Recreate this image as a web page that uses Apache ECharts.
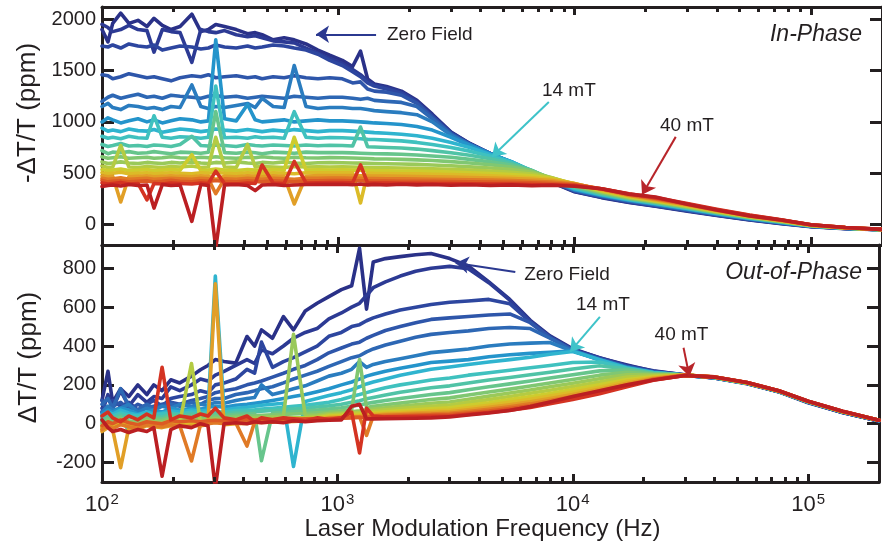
<!DOCTYPE html>
<html><head><meta charset="utf-8">
<script src="https://cdn.jsdelivr.net/npm/echarts@6/dist/echarts.min.js"></script>
<style>html,body{margin:0;padding:0;background:#fff}#chart{width:882px;height:546px}</style>
</head><body><div id="chart"></div>
<script>
// ---------- data ----------
const freqHz = [100, 106, 111, 120, 130, 142, 155, 166, 180, 196, 214, 240, 262, 282, 303, 330, 370, 413, 445, 476, 530, 590, 651, 730, 820, 920, 1040, 1150, 1242, 1330, 1420, 1600, 1850, 2150, 2500, 3000, 3600, 4400, 5400, 6600, 8000, 10000, 13000, 17000, 22000, 30000, 40000, 55000, 75000, 100000, 140000, 200000];
const fieldsMT = [0, 2, 4, 6, 8, 10, 12, 14, 16, 18, 20, 22, 24, 26, 28, 30, 32, 34, 36, 38, 40];

// In-phase (-dT/T, ppm)
const IP_00 = [1900, 1780, 1960, 2060, 1960, 1990, 1930, 2010, 1940, 1900, 1930, 2050, 1880, 1900, 1950, 1930, 1900, 1860, 1870, 1850, 1800, 1820, 1800, 1760, 1700, 1650, 1600, 1540, 1690, 1420, 1370, 1345, 1300, 1210, 1075, 900, 790, 690, 600, 500, 410, 318, 262, 215, 178, 130, 88, 45, 8, -22, -40, -52];
const IP_02 = [1950, 1920, 1880, 1900, 1940, 1900, 1890, 1680, 1900, 1880, 1870, 1580, 1900, 1880, 1870, 1890, 1850, 1830, 1840, 1820, 1790, 1780, 1770, 1720, 1670, 1620, 1570, 1510, 1460, 1400, 1360, 1335, 1290, 1200, 1065, 895, 788, 690, 602, 503, 413, 322, 266, 218, 181, 133, 90, 47, 10, -20, -39, -52];
const IP_04 = [1740, 1730, 1750, 1720, 1760, 1740, 1730, 1750, 1700, 1720, 1740, 1730, 1710, 1720, 1750, 1730, 1720, 1740, 1720, 1730, 1750, 1740, 1720, 1700, 1660, 1600, 1550, 1490, 1440, 1380, 1350, 1320, 1280, 1190, 1055, 890, 785, 690, 604, 506, 416, 326, 270, 222, 184, 136, 93, 49, 12, -19, -38, -51];
const IP_06 = [1460, 1450, 1420, 1440, 1470, 1450, 1430, 1440, 1420, 1400, 1430, 1450, 1440, 1460, 1430, 1440, 1450, 1430, 1440, 1420, 1440, 1430, 1450, 1430, 1420, 1430, 1420, 1380, 1390, 1320, 1300, 1290, 1260, 1180, 1045, 885, 782, 690, 606, 509, 419, 330, 274, 226, 188, 140, 96, 51, 14, -18, -38, -51];
const IP_08 = [1200, 1240, 1260, 1230, 1250, 1270, 1240, 1250, 1230, 1260, 1250, 1240, 1230, 1250, 1260, 1240, 1250, 1230, 1240, 1250, 1240, 1230, 1250, 1240, 1230, 1240, 1240, 1230, 1220, 1230, 1210, 1200, 1190, 1150, 1030, 880, 780, 690, 608, 512, 422, 334, 278, 230, 192, 144, 99, 54, 16, -17, -37, -51];
const IP_10 = [1150, 1180, 1140, 1120, 1160, 1150, 1130, 1140, 1120, 1150, 1140, 1360, 1150, 1130, 1150, 1140, 1160, 1180, 1140, 1230, 1150, 1140, 1550, 1150, 1130, 1140, 1140, 1130, 1130, 1120, 1110, 1100, 1090, 1070, 1000, 870, 778, 690, 610, 515, 425, 338, 282, 234, 196, 148, 102, 56, 18, -16, -37, -51];
const IP_12 = [1000, 1040, 1020, 990, 1010, 1030, 1000, 1020, 990, 1010, 1030, 1020, 1000, 1010, 1800, 1030, 1010, 1170, 1020, 1000, 1010, 1020, 1000, 1010, 1020, 1010, 1010, 1005, 1000, 995, 990, 985, 975, 955, 920, 850, 770, 688, 612, 518, 428, 342, 286, 238, 200, 152, 105, 59, 20, -15, -36, -50];
const IP_14 = [940, 910, 920, 905, 930, 915, 910, 925, 900, 915, 930, 920, 905, 915, 930, 920, 910, 925, 915, 905, 920, 910, 925, 915, 905, 915, 915, 910, 905, 900, 895, 890, 880, 865, 840, 800, 750, 680, 612, 522, 432, 348, 290, 242, 204, 155, 108, 61, 22, -14, -36, -50];
const IP_16 = [860, 840, 850, 835, 860, 845, 840, 1060, 850, 840, 855, 850, 840, 850, 1350, 845, 850, 840, 855, 845, 850, 840, 1100, 850, 840, 848, 845, 840, 835, 830, 828, 822, 815, 800, 780, 750, 715, 665, 605, 525, 436, 355, 295, 246, 208, 159, 111, 63, 24, -13, -35, -50];
const IP_18 = [780, 760, 770, 790, 765, 770, 760, 775, 770, 760, 780, 860, 770, 765, 775, 770, 760, 780, 770, 765, 775, 770, 765, 775, 768, 772, 770, 765, 950, 758, 755, 750, 745, 735, 720, 700, 675, 640, 595, 527, 440, 362, 300, 250, 212, 163, 114, 66, 26, -12, -35, -50];
const IP_20 = [720, 690, 705, 700, 710, 695, 700, 710, 700, 690, 705, 700, 695, 705, 1100, 700, 695, 705, 700, 690, 705, 700, 695, 705, 700, 702, 700, 698, 695, 692, 690, 688, 684, 678, 668, 655, 635, 610, 580, 525, 445, 370, 306, 254, 216, 166, 117, 68, 28, -11, -34, -50];
const IP_22 = [660, 645, 650, 660, 645, 650, 655, 645, 650, 660, 650, 645, 655, 650, 660, 650, 645, 655, 650, 660, 650, 645, 655, 650, 648, 652, 650, 648, 645, 643, 640, 638, 635, 630, 623, 613, 600, 582, 560, 520, 450, 378, 312, 258, 220, 170, 120, 70, 30, -10, -34, -50];
const IP_24 = [610, 595, 600, 610, 600, 595, 605, 600, 595, 605, 600, 610, 600, 595, 605, 600, 610, 600, 595, 605, 600, 610, 600, 595, 602, 603, 602, 600, 598, 596, 594, 592, 590, 586, 580, 572, 562, 550, 535, 510, 455, 386, 318, 262, 224, 174, 123, 73, 32, -9, -33, -50];
const IP_26 = [570, 555, 560, 770, 560, 555, 565, 560, 555, 565, 560, 570, 555, 560, 850, 560, 555, 780, 560, 565, 560, 555, 565, 560, 562, 561, 562, 560, 558, 556, 555, 553, 551, 548, 544, 538, 530, 520, 508, 492, 455, 392, 324, 267, 228, 178, 126, 75, 34, -8, -33, -49];
const IP_28 = [535, 525, 530, 540, 525, 530, 535, 525, 530, 535, 530, 680, 525, 530, 540, 530, 525, 535, 530, 525, 535, 530, 850, 530, 532, 531, 532, 530, 528, 527, 525, 524, 522, 520, 516, 511, 505, 497, 487, 475, 450, 398, 330, 272, 232, 182, 130, 78, 36, -7, -32, -49];
const IP_30 = [505, 495, 500, 510, 495, 500, 505, 495, 500, 505, 500, 495, 505, 500, 510, 500, 495, 505, 500, 495, 505, 500, 495, 505, 503, 504, 505, 503, 210, 500, 498, 497, 495, 493, 490, 486, 481, 474, 466, 456, 440, 400, 336, 277, 237, 186, 133, 80, 38, -6, -32, -49];
const IP_32 = [475, 465, 470, 220, 465, 470, 475, 465, 470, 475, 470, 465, 475, 470, 440, 470, 465, 475, 470, 465, 475, 470, 200, 470, 476, 477, 478, 476, 474, 473, 472, 471, 470, 468, 465, 462, 458, 453, 447, 440, 428, 398, 342, 282, 242, 190, 136, 83, 40, -5, -31, -49];
const IP_34 = [450, 440, 445, 455, 440, 445, 450, 440, 445, 450, 445, 440, 450, 445, 300, 445, 440, 450, 445, 440, 450, 445, 440, 450, 451, 452, 452, 450, 449, 448, 447, 446, 445, 443, 441, 439, 436, 432, 428, 422, 414, 394, 346, 288, 248, 195, 140, 86, 42, -4, -31, -49];
const IP_36 = [430, 415, 420, 425, 415, 420, 425, 415, 420, 430, 420, 415, 425, 420, 430, 420, 415, 425, 420, 415, 425, 420, 415, 425, 427, 428, 428, 427, 426, 425, 424, 423, 422, 421, 420, 418, 416, 413, 410, 406, 400, 388, 348, 294, 255, 200, 144, 89, 44, -3, -30, -48];
const IP_38 = [405, 395, 400, 410, 395, 400, 240, 400, 395, 405, 400, 395, 405, 400, 520, 400, 395, 405, 400, 580, 405, 400, 615, 405, 407, 408, 408, 407, 580, 405, 404, 403, 402, 401, 400, 399, 397, 395, 393, 390, 386, 380, 348, 300, 262, 205, 148, 92, 46, -2, -30, -48];
const IP_40 = [370, 380, 385, 375, 390, 380, 385, 160, 390, 380, 385, 30, 390, 380, -230, 385, 390, 380, 330, 385, 390, 380, 385, 390, 392, 391, 392, 388, 394, 386, 391, 385, 392, 386, 390, 383, 388, 380, 386, 378, 382, 372, 348, 296, 268, 198, 142, 84, 44, -2, -30, -48];

// Out-of-phase (dT/T, ppm)
const OP_00 = [120, 270, 110, 180, 140, 200, 150, 200, 170, 226, 210, 245, 278, 300, 330, 320, 312, 449, 400, 483, 440, 551, 483, 580, 620, 654, 690, 710, 903, 590, 833, 850, 860, 870, 876, 850, 812, 730, 640, 532, 452, 386, 338, 302, 270, 252, 236, 206, 164, 108, 58, 14];
const OP_02 = [60, 150, 80, 170, 90, 150, 110, 140, 130, 190, 170, 200, 230, 220, 250, 270, 300, 330, 310, 380, 360, 400, 440, 470, 490, 540, 570, 600, 620, 660, 700, 730, 760, 785, 800, 810, 798, 726, 636, 528, 448, 382, 340, 298, 272, 250, 238, 208, 165, 110, 58, 14];
const OP_04 = [80, 60, 120, 90, 110, 70, 100, 120, 90, 130, 140, 150, 170, 160, 200, 210, 230, 280, 260, 420, 290, 320, 340, 370, 400, 450, 470, 500, 510, 530, 545, 565, 585, 600, 614, 625, 632, 640, 618, 524, 446, 380, 336, 296, 268, 250, 236, 207, 165, 110, 58, 14];
const OP_06 = [120, 60, 90, 110, 70, 100, 80, 90, 100, 110, 100, 120, 130, 140, 160, 170, 180, 200, 210, 220, 240, 260, 280, 300, 330, 365, 390, 410, 420, 440, 455, 480, 500, 520, 537, 545, 552, 560, 565, 520, 444, 378, 334, 294, 267, 249, 236, 208, 166, 111, 59, 15];
const OP_08 = [100, 130, 80, 180, 90, 70, 100, 80, 90, 100, 90, 110, 100, 120, 130, 130, 150, 160, 170, 180, 190, 210, 230, 250, 270, 295, 320, 340, 350, 370, 385, 405, 425, 445, 460, 470, 478, 490, 495, 490, 440, 376, 332, 292, 266, 249, 237, 208, 166, 112, 60, 16];
const OP_10 = [60, 90, 70, 80, 100, 60, 80, 70, 90, 80, 100, 90, 100, 95, 110, 105, 120, 130, 135, 200, 150, 165, 180, 195, 220, 245, 260, 280, 320, 290, 305, 320, 335, 350, 366, 375, 385, 400, 410, 415, 418, 374, 330, 290, 265, 249, 237, 208, 166, 112, 60, 16];
const OP_12 = [50, 70, 60, 80, 70, 50, 60, 70, 60, 80, 70, 80, 75, 85, 90, 85, 95, 100, 105, 110, 120, 130, 140, 150, 165, 180, 200, 215, 230, 245, 255, 270, 285, 300, 315, 322, 330, 345, 355, 362, 368, 376, 328, 288, 264, 249, 237, 209, 167, 113, 61, 17];
const OP_14 = [40, 60, 50, 70, 55, 45, 60, 50, 55, 65, 60, 70, 65, 70, 760, 70, 80, 85, 90, 95, 100, 105, -220, 115, 130, 145, 160, 175, 190, 205, 215, 230, 250, 265, 280, 292, 305, 318, 330, 342, 358, 372, 330, 287, 263, 249, 238, 209, 167, 113, 61, 17];
const OP_16 = [30, 50, 40, 55, 45, 40, 50, 45, 50, 55, 50, 60, 55, 60, 62, 60, 68, 70, 72, 75, 80, 85, 90, 95, 102, 110, 125, 140, 150, 160, 170, 185, 200, 212, 225, 235, 250, 262, 275, 288, 300, 315, 318, 285, 262, 250, 238, 209, 167, 113, 61, 17];
const OP_18 = [20, 40, 30, 45, 35, 30, 45, 40, 35, 50, 45, 50, 48, 52, 55, 52, 58, 60, 62, 65, 68, 72, 76, 80, 86, 92, 100, 110, 118, 128, 135, 148, 162, 174, 185, 195, 210, 225, 238, 252, 265, 282, 298, 282, 260, 250, 238, 209, 167, 113, 61, 17];
const OP_20 = [10, 30, 20, 35, -40, 20, 35, 30, 25, 40, 35, 40, 38, 42, 45, 42, 48, 50, 52, -190, 55, 58, 62, 65, 70, 75, 82, 90, 96, 104, 110, 120, 130, 140, 150, 160, 175, 190, 205, 220, 235, 252, 272, 276, 258, 250, 238, 209, 167, 113, 61, 17];
const OP_22 = [0, 20, 10, 25, 15, 10, 25, 20, 15, 30, 25, 30, 28, 32, 35, 32, 38, 40, 42, 44, 46, 48, 50, 53, 56, 60, 66, 72, 330, 84, 90, 98, 106, 116, 125, 133, 148, 163, 178, 194, 210, 228, 250, 265, 255, 250, 239, 210, 168, 114, 62, 18];
const OP_24 = [-10, 10, 0, 15, 5, 0, 15, 10, 5, 20, 15, 20, 18, 22, 25, 22, 28, 30, 32, 34, 36, 38, 460, 42, 45, 52, 56, 62, 66, 72, 76, 82, 90, 98, 105, 112, 126, 142, 158, 174, 190, 208, 232, 252, 252, 250, 239, 210, 168, 114, 62, 18];
const OP_26 = [-20, 0, -10, 5, -5, -10, 5, 0, -5, 10, 5, 310, 8, 12, 15, 12, 18, 20, 22, 24, 26, 28, 30, 32, 36, 46, 50, 55, 58, 62, 66, 72, 78, 84, 90, 96, 110, 124, 140, 157, 172, 192, 215, 240, 247, 250, 239, 210, 168, 114, 62, 18];
const OP_28 = [-30, -10, -20, 0, -10, -20, 0, -5, -10, 5, 0, 5, 3, 8, 10, 8, 12, 15, 16, 18, 20, 22, 24, 26, 30, 40, 44, 48, 50, 54, 57, 62, 67, 72, 77, 82, 95, 108, 124, 140, 156, 176, 200, 228, 242, 250, 240, 211, 169, 115, 63, 18];
const OP_30 = [-20, 0, -15, 5, -10, -15, 0, -5, -10, 0, -5, 0, 0, 5, 8, 5, 10, 12, 13, 14, 16, 18, 20, 22, 26, 35, 38, 42, 44, 47, 50, 54, 58, 62, 66, 70, 82, 95, 110, 126, 142, 162, 188, 218, 238, 250, 240, 211, 169, 115, 63, 18];
const OP_32 = [-40, -20, -30, -226, -20, -30, -10, -15, -20, -10, -15, -10, -10, -5, 720, -5, 0, 2, 5, 6, 8, 10, 12, 14, 18, 30, 33, 36, 38, 41, 44, 48, 51, 55, 58, 62, 72, 84, 98, 113, 130, 150, 177, 208, 234, 250, 240, 211, 169, 115, 63, 18];
const OP_34 = [-30, -10, -25, -5, -15, -25, -5, -10, -15, -5, -10, -192, -5, 0, 5, 0, 5, -115, 8, 9, 10, 12, 14, 16, 20, 28, 31, 34, 36, -60, 40, 43, 46, 49, 50, 54, 63, 74, 87, 102, 119, 140, 167, 200, 230, 250, 240, 212, 170, 115, 63, 18];
const OP_36 = [-10, 10, 0, 20, 5, -5, 10, 5, 0, 15, 10, 15, 10, 15, 18, 15, 18, 20, 20, 22, 22, 24, 24, 25, 26, 25, 28, 30, 32, 34, 35, 37, 39, 42, 44, 47, 55, 65, 78, 92, 110, 131, 160, 194, 227, 249, 241, 212, 170, 116, 64, 18];
const OP_38 = [40, 60, 30, 10, 40, 20, 50, 30, 290, 20, 40, 30, 50, 40, 80, 30, 20, 40, 10, 30, 20, 30, 25, 15, 30, 22, 30, 60, -150, 80, 40, 35, 36, 37, 38, 40, 48, 58, 70, 84, 103, 125, 154, 190, 224, 249, 241, 212, 170, 116, 64, 18];
const OP_40 = [20, -20, -40, -30, -45, -30, -40, -20, -270, -30, -10, -20, 0, -10, -330, 0, 5, 0, 10, 5, 10, 5, 15, 10, 15, 18, 20, 90, 100, 25, 25, 26, 27, 28, 30, 35, 45, 55, 68, 88, 112, 140, 170, 200, 225, 248, 240, 212, 170, 116, 64, 18];

const inPhaseCurves = [IP_00, IP_02, IP_04, IP_06, IP_08, IP_10, IP_12, IP_14, IP_16, IP_18, IP_20, IP_22, IP_24, IP_26, IP_28, IP_30, IP_32, IP_34, IP_36, IP_38, IP_40];
const outPhaseCurves = [OP_00, OP_02, OP_04, OP_06, OP_08, OP_10, OP_12, OP_14, OP_16, OP_18, OP_20, OP_22, OP_24, OP_26, OP_28, OP_30, OP_32, OP_34, OP_36, OP_38, OP_40];

const yTicksTop = [0, 500, 1000, 1500, 2000];
const yTicksBottom = [-200, 0, 200, 400, 600, 800];
const xMajorTicks = [1000, 10000, 100000];
const xMinorTicks = [200, 300, 400, 500, 600, 700, 800, 900, 2000, 3000, 4000, 5000, 6000, 7000, 8000, 9000, 20000, 30000, 40000, 50000, 60000, 70000, 80000, 90000];

// annotations (data coordinates)
const topArrows = [
  { from: [1445, 1854], to: [805, 1854], color: '#2b3990' },
  { from: [7780, 1194], to: [4470, 660], color: '#3ec3c9' },
  { from: [26800, 854], to: [19300, 291], color: '#b8252a' }
];
const bottomArrows = [
  { from: [5700, 781], to: [3180, 827], color: '#2b3990' },
  { from: [13040, 550], to: [9750, 371], color: '#3ec3c9' },
  { from: [29560, 391], to: [31300, 243], color: '#b8252a' }
];
const topNotes = [
  { text: 'Zero Field', at: [1607, 1854], align: 'left' },
  { text: '14 mT', at: [9460, 1301], align: 'center' },
  { text: '40 mT', at: [29900, 961], align: 'center' }
];
const bottomNotes = [
  { text: 'Zero Field', at: [6220, 766], align: 'left' },
  { text: '14 mT', at: [13430, 612], align: 'center' },
  { text: '40 mT', at: [28970, 458], align: 'center' }
];

// ---------- layout & style ----------
const INK = '#231f20';
const FONT = '"Liberation Sans", Arial, Helvetica, sans-serif';
const curveColors = ['#2a3188', '#2c3a94', '#2d469f', '#2e56aa', '#2d67b4', '#2a7cbf', '#2494cb', '#2fb4cf', '#3fc1bf', '#50c3a6', '#67c58c', '#80c772', '#9ac95a', '#b4cb43', '#cdcc2e', '#dcbb28', '#e19f27', '#e07a26', '#dc5a24', '#d43322', '#bb1f22'];
const X_RANGE = [100, 200000];
const TOP = { top: 7, height: 238, min: -200, max: 2120 };
const BOT = { top: 245, height: 237, min: -300, max: 920 };

function xAxisCfg(grid, pos, labels) {
  const a = {
    type: 'log', logBase: 10, gridIndex: grid, position: pos, min: X_RANGE[0], max: X_RANGE[1],
    axisLine: { show: true, onZero: false, lineStyle: { color: INK, width: 3 } },
    axisTick: { show: false },
    axisLabel: {
      show: labels, margin: 10, color: INK,
      formatter: function (v) {
        const e = Math.log10(v);
        if (Math.abs(e - Math.round(e)) > 1e-6) return '';
        return '{b|10}{e|' + Math.round(e) + '}';
      },
      rich: {
        b: { fontSize: 22, fontFamily: FONT, color: INK, lineHeight: 26 },
        e: { fontSize: 15, fontFamily: FONT, color: INK, verticalAlign: 'top', lineHeight: 26, padding: [0, 0, 0, 1] }
      }
    },
    splitLine: { show: false }
  };
  if (labels) {
    a.name = 'Laser Modulation Frequency (Hz)';
    a.nameLocation = 'middle';
    a.nameGap = 31;
    a.nameTextStyle = { fontSize: 24, fontFamily: FONT, color: INK, padding: [0, 16, 0, 0] };
  }
  return a;
}
function yAxisCfg(grid, pos, P, ticks, name, shift) {
  const a = {
    type: 'value', gridIndex: grid, position: pos, min: P.min, max: P.max,
    axisLine: { show: true, onZero: false, lineStyle: { color: INK, width: 3 } },
    axisTick: { show: true, inside: true, length: 12, customValues: ticks, lineStyle: { color: INK, width: 3 } },
    axisLabel: { show: !!name, customValues: ticks, margin: 6, fontSize: 20, fontFamily: FONT, color: INK, formatter: v => String(v) },
    splitLine: { show: false }
  };
  if (name) {
    a.name = name;
    a.nameLocation = 'middle';
    a.nameGap = 60;
    a.nameTextStyle = { fontSize: 26, fontFamily: FONT, color: INK, padding: [0, 0, 0, shift] };
  }
  return a;
}

// x-axis tick marks (top & bottom edges of a panel), drawn through the axis scales
function xTickLines(P) {
  const perPx = (P.max - P.min) / P.height;
  const out = [];
  const add = (v, len) => {
    const d = len * perPx;
    out.push([{ coord: [v, P.min] }, { coord: [v, P.min + d] }]);
    out.push([{ coord: [v, P.max] }, { coord: [v, P.max - d] }]);
  };
  xMajorTicks.forEach(v => add(v, 8));
  xMinorTicks.forEach(v => add(v, 5));
  return out;
}

function curveSeries(curves, xi, yi, P, arrows, notes) {
  return curves.map((vals, k) => {
    const s = {
      type: 'line', name: fieldsMT[k] + ' mT', xAxisIndex: xi, yAxisIndex: yi,
      data: freqHz.map((f, i) => [f, vals[i]]),
      showSymbol: false, silent: true, animation: false, clip: true,
      color: curveColors[k],
      lineStyle: { width: 3.6, color: curveColors[k], join: 'round', cap: 'round' },
      z: 2
    };
    if (k === 0) {
      s.markLine = {
        silent: true, animation: false, symbol: ['none', 'none'],
        label: { show: false }, emphasis: { disabled: true },
        lineStyle: { color: INK, width: 3, type: 'solid' },
        data: xTickLines(P)
      };
    }
    if (k === curves.length - 1) {
      s.markLine = {
        silent: true, animation: false, symbol: ['none', 'arrow'], symbolSize: 13,
        label: { show: false },
        data: arrows.map(a => [
          { coord: a.from, lineStyle: { color: a.color, width: 2, type: 'solid' }, itemStyle: { color: a.color } },
          { coord: a.to }
        ])
      };
      s.markPoint = {
        silent: true, animation: false, symbol: 'circle', symbolSize: 1,
        itemStyle: { color: 'rgba(0,0,0,0)' },
        data: notes.map(n => ({
          coord: n.at, name: n.text,
          label: { show: true, formatter: n.text, position: 'inside', align: n.align, verticalAlign: 'middle', fontSize: 19, fontFamily: FONT, color: INK }
        }))
      };
    }
    return s;
  });
}

const chart = echarts.init(document.getElementById('chart'), null, { renderer: 'canvas' });
chart.setOption({
  animation: false,
  backgroundColor: '#ffffff',
  textStyle: { fontFamily: FONT },
  title: [
    { text: 'In-Phase', right: 20, top: 23, padding: 0, textStyle: { fontStyle: 'italic', fontWeight: 'normal', fontSize: 23, fontFamily: FONT, color: INK } },
    { text: 'Out-of-Phase', right: 20, top: 261, padding: 0, textStyle: { fontStyle: 'italic', fontWeight: 'normal', fontSize: 23, fontFamily: FONT, color: INK } }
  ],
  grid: [
    { left: 102, top: TOP.top, width: 781, height: TOP.height },
    { left: 102, top: BOT.top, width: 781, height: BOT.height }
  ],
  xAxis: [xAxisCfg(0, 'bottom', false), xAxisCfg(0, 'top', false), xAxisCfg(1, 'bottom', true), xAxisCfg(1, 'top', false)],
  yAxis: [
    yAxisCfg(0, 'left', TOP, yTicksTop, '-\u0394T/T (ppm)', 26),
    yAxisCfg(0, 'right', TOP, yTicksTop, null, 0),
    yAxisCfg(1, 'left', BOT, yTicksBottom, '\u0394T/T (ppm)', 12),
    yAxisCfg(1, 'right', BOT, yTicksBottom, null, 0)
  ],
  series: [].concat(
    curveSeries(inPhaseCurves, 0, 0, TOP, topArrows, topNotes),
    curveSeries(outPhaseCurves, 2, 2, BOT, bottomArrows, bottomNotes)
  )
});
</script></body></html>
